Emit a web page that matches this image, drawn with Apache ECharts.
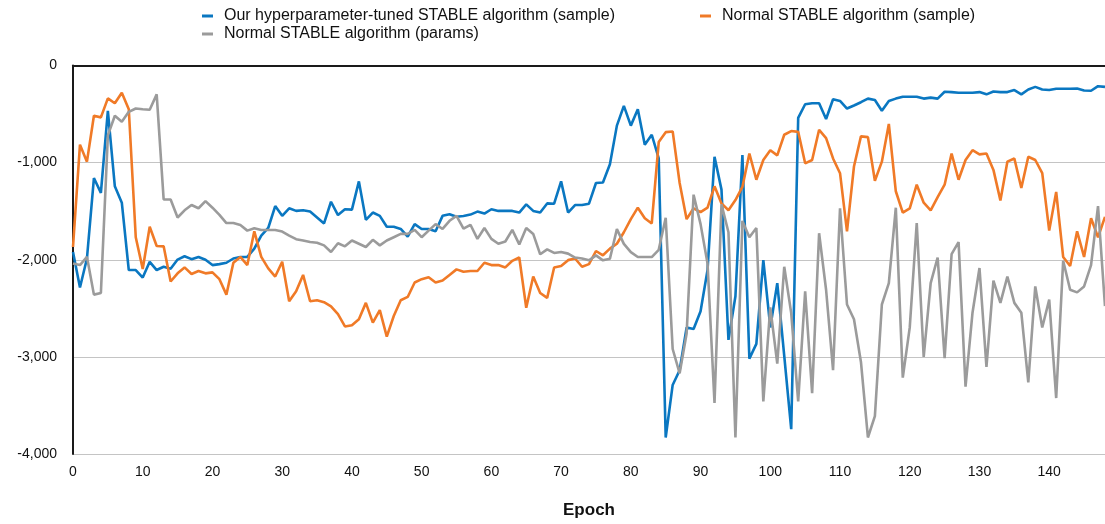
<!DOCTYPE html>
<html>
<head>
<meta charset="utf-8">
<script src="https://cdn.jsdelivr.net/npm/echarts@6/dist/echarts.min.js"></script>
<style>
html,body{margin:0;padding:0;background:#fff;}
#chart{width:1105px;height:524px;}
</style>
</head>
<body>
<div id="chart"></div>
<script>
const seriesNames = [
  'Our hyperparameter-tuned STABLE algorithm (sample)',
  'Normal STABLE algorithm (sample)',
  'Normal STABLE algorithm (params)'
];
const yTicks = [-4000, -3000, -2000, -1000, 0];
const xTickInterval = 10;

const tunedSample = [
  -1920,-2285,-1987,-1159,-1311,-466,-1244,-1413,-2106,-2106,
  -2183,-2021,-2106,-2072,-2092,-1998,-1964,-1994,-1971,-2000,
  -2055,-2045,-2031,-1987,-1971,-1971,-1886,-1751,-1673,-1447,
  -1548,-1470,-1497,-1491,-1504,-1565,-1626,-1403,-1540,-1480,
  -1484,-1193,-1589,-1514,-1548,-1660,-1660,-1683,-1761,-1633,
  -1683,-1683,-1707,-1548,-1531,-1558,-1550,-1535,-1504,-1524,
  -1480,-1497,-1497,-1497,-1514,-1430,-1497,-1514,-1420,-1423,
  -1193,-1514,-1437,-1437,-1423,-1210,-1205,-1017,-619,-416,
  -619,-450,-815,-713,-957,-3830,-3289,-3137,-2697,-2714,
  -2530,-2106,-940,-1278,-2825,-2376,-923,-3018,-2866,-2004,
  -2697,-2241,-2990,-3745,-540,-399,-389,-389,-551,-348,
  -365,-443,-412,-378,-341,-355,-466,-365,-341,-321,
  -321,-321,-341,-331,-341,-270,-274,-280,-280,-280,
  -274,-297,-267,-274,-274,-253,-297,-247,-220,-247,
  -253,-240,-240,-240,-237,-257,-260,-213,-220
];
const normalSample = [
  -1869,-815,-990,-517,-534,-338,-389,-281,-450,-1768,
  -2096,-1660,-1859,-1862,-2224,-2140,-2079,-2146,-2116,-2140,
  -2130,-2200,-2359,-2031,-1971,-2055,-1707,-1971,-2089,-2173,
  -2021,-2427,-2325,-2156,-2427,-2417,-2437,-2480,-2560,-2687,
  -2674,-2613,-2444,-2647,-2518,-2792,-2579,-2417,-2383,-2234,
  -2200,-2180,-2234,-2214,-2156,-2099,-2123,-2116,-2116,-2031,
  -2055,-2055,-2079,-2011,-1977,-2494,-2173,-2342,-2393,-2079,
  -2065,-2004,-1987,-2072,-2045,-1910,-1954,-1886,-1835,-1717,
  -1582,-1464,-1572,-1626,-788,-686,-679,-1210,-1582,-1470,
  -1510,-1464,-1244,-1420,-1490,-1385,-1250,-906,-1176,-973,
  -872,-925,-713,-675,-683,-1007,-973,-662,-747,-957,
  -1109,-1707,-1040,-730,-737,-1186,-990,-602,-1295,-1514,
  -1470,-1227,-1413,-1491,-1355,-1227,-906,-1176,-973,-872,
  -915,-906,-1075,-1389,-990,-957,-1261,-940,-973,-1109,
  -1700,-1301,-1971,-2065,-1707,-1971,-1572,-1768,-1558
];
const normalParams = [
  -2038,-2055,-1970,-2359,-2342,-720,-517,-578,-477,-443,
  -450,-456,-297,-1379,-1379,-1565,-1491,-1436,-1470,-1396,
  -1464,-1538,-1622,-1622,-1643,-1700,-1676,-1693,-1693,-1693,
  -1710,-1751,-1788,-1802,-1818,-1825,-1852,-1920,-1830,-1862,
  -1802,-1835,-1869,-1795,-1852,-1802,-1768,-1734,-1734,-1693,
  -1768,-1700,-1633,-1683,-1599,-1548,-1680,-1640,-1785,-1673,
  -1785,-1835,-1812,-1693,-1842,-1673,-1734,-1944,-1893,-1930,
  -1920,-1937,-1977,-1987,-2006,-1955,-2006,-1990,-1685,-1837,
  -1922,-1972,-1972,-1972,-1898,-1567,-2919,-3170,-2760,-1330,
  -1633,-2038,-3475,-1430,-1717,-3830,-1600,-1768,-1673,-3458,
  -2490,-3069,-2072,-2550,-3458,-2325,-3373,-1727,-2309,-3137,
  -1470,-2461,-2613,-3052,-3830,-3610,-2461,-2241,-1464,-3214,
  -2697,-1622,-3001,-2241,-1977,-3012,-1943,-1818,-3306,-2545,
  -2085,-3103,-2214,-2444,-2173,-2444,-2545,-3262,-2275,-2697,
  -2410,-3424,-2011,-2309,-2336,-2275,-2055,-1447,-2477
];
const epochs = tunedSample.map((_, i) => i);

const colors = ['#0a77c1', '#f07a27', '#9b9b9b'];
const fontFamily = '"Liberation Sans", Arial, Helvetica, sans-serif';

function pairs(vals) { return vals.map((v, i) => [epochs[i], v]); }

const chart = echarts.init(document.getElementById('chart'), null, {renderer: 'canvas'});
const legendText = {color: '#111', fontSize: 16, fontFamily: fontFamily, padding: [0, 0, 0, 6]};
function legendFor(name, left, top) {
  return {
    data: [name], left: left, top: top, orient: 'horizontal',
    icon: 'rect', itemWidth: 11, itemHeight: 3, itemGap: 10,
    textStyle: legendText, selectedMode: false, padding: 0
  };
}
chart.setOption({
  animation: false,
  color: colors,
  legend: [
    legendFor(seriesNames[0], 202, 8),
    legendFor(seriesNames[1], 700, 8),
    legendFor(seriesNames[2], 202, 26)
  ],
  grid: {left: 73, right: 0, top: 65.5, bottom: 64.5, containLabel: false},
  xAxis: [{
    type: 'value', min: 0, max: 148, interval: xTickInterval,
    name: 'Epoch', nameLocation: 'middle', nameGap: 48,
    nameTextStyle: {fontSize: 17, fontWeight: 'bold', color: '#111', fontFamily: fontFamily},
    axisLine: {show: true, lineStyle: {color: '#1a1a1a', width: 2}},
    axisTick: {show: false},
    axisLabel: {color: '#111', fontSize: 14, margin: 11, fontFamily: fontFamily,
      showMaxLabel: false},
    splitLine: {show: false}
  }, {
    type: 'value', min: 0, max: 148, position: 'top',
    axisLine: {show: true, onZero: false, lineStyle: {color: '#1a1a1a', width: 2}},
    axisTick: {show: false}, axisLabel: {show: false}, splitLine: {show: false}
  }],
  yAxis: {
    type: 'value', min: yTicks[0], max: yTicks[yTicks.length - 1], interval: 1000,
    axisLine: {show: true, lineStyle: {color: '#1a1a1a', width: 2}},
    axisTick: {show: false},
    axisLabel: {color: '#111', fontSize: 14, margin: 16, fontFamily: fontFamily,
      formatter: v => v.toLocaleString('en-US')},
    splitLine: {show: true, lineStyle: {color: '#c4c4c4', width: 1}}
  },
  series: [
    {name: seriesNames[0], type: 'line', data: pairs(tunedSample), showSymbol: false,
      lineStyle: {width: 2.6, color: colors[0]}, itemStyle: {color: colors[0]}},
    {name: seriesNames[1], type: 'line', data: pairs(normalSample), showSymbol: false,
      lineStyle: {width: 2.6, color: colors[1]}, itemStyle: {color: colors[1]}},
    {name: seriesNames[2], type: 'line', data: pairs(normalParams), showSymbol: false,
      lineStyle: {width: 2.6, color: colors[2]}, itemStyle: {color: colors[2]}}
  ]
});
</script>
</body>
</html>
